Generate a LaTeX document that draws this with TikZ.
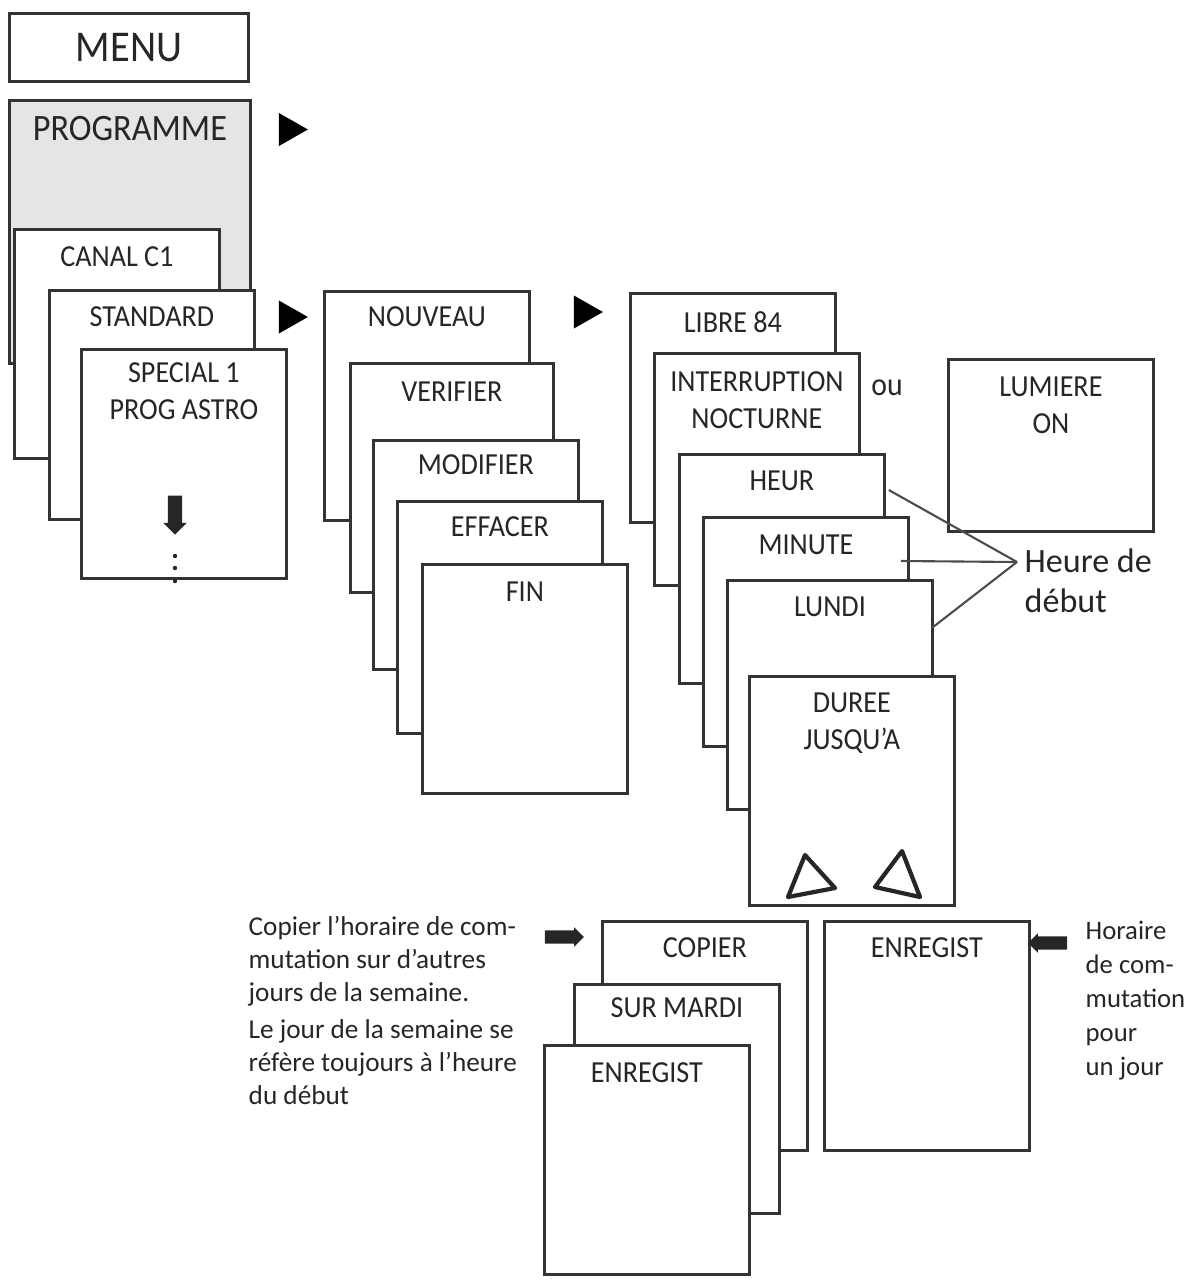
\documentclass[tikz,border=0pt]{standalone}
\usepackage{fontspec}
\setmainfont{Carlito}
\newfontfamily\dinfont{Carlito}[FakeStretch=0.92]
\usetikzlibrary{positioning,shapes.geometric,shapes.arrows}
\begin{document}
\begin{tikzpicture}[text=black!85,
    card/.style={rectangle, draw=black!80, line width=0.8pt, fill=white, anchor=north west,
      minimum width=2.05cm, minimum height=2.29cm, inner sep=0},
    grey/.style={card, fill=black!10, minimum width=2.41cm, minimum height=2.63cm},
    txt/.style={font=\dinfont\fontsize{8.7}{10.5}\selectfont, align=center, inner sep=0, outer sep=0},
    note/.style={font=\fontsize{7.75}{9.4}\selectfont, align=left, anchor=north west, inner sep=0},
    play/.style={isosceles triangle, isosceles triangle stretches, fill=black, draw=none,
      minimum height=0.29cm, minimum width=0.33cm, inner sep=0},
    fat/.style={single arrow, fill=black!85, draw=none, minimum height=0.39cm, minimum width=0.18cm,
      single arrow head extend=0.03cm, inner sep=0.06cm},
    link/.style={draw=black!70, line width=0.6pt},
    updown/.style={draw=black!85, line width=1.2pt, line join=round}]
  \useasboundingbox (0,0) rectangle (11.89,-12.84);
  % first column
  \node[card, minimum width=2.39cm, minimum height=0.68cm, font=\dinfont\fontsize{12.5}{14}\selectfont] (menu) at (0.08,-0.12) {MENU};
  \node[grey] (prog) at (0.08,-0.99) {};
  \node[txt, font=\dinfont\fontsize{10.6}{12}\selectfont, below=0.175cm of prog.north] (prog-t) {PROGRAMME};
  \node[card] (canal) at (0.13,-2.28) {};     \node[txt, below=0.19cm of canal.north] (canal-t) {CANAL C1};
  \node[card] (standard) at (0.48,-2.89) {};  \node[txt, below=0.18cm of standard.north] (standard-t) {STANDARD};
  \node[card] (special) at (0.80,-3.48) {};   \node[txt, below=0.15cm of special.north] (special-t) {SPECIAL 1\\PROG ASTRO};
  \node[fat, shape border rotate=270, minimum width=0.22cm, single arrow head extend=0.045cm, inner sep=0.065cm] (down) at (1.75,-5.115) {};
  \foreach \y in {5.56,5.68,5.81} \fill[black!85] (1.75,-\y) circle (0.022);
  \node[play] (go1) at (2.885,-1.295) {};
  \node[play] (go2) at (2.885,-3.17) {};
  % second column
  \node[card] (nouveau) at (3.23,-2.90) {};   \node[txt, below=0.17cm of nouveau.north] (nouveau-t) {NOUVEAU};
  \node[card, minimum width=2.03cm] (verifier) at (3.49,-3.62) {}; \node[txt, below=0.20cm of verifier.north] (verifier-t) {VERIFIER};
  \node[card] (modifier) at (3.72,-4.39) {};  \node[txt, below=0.16cm of modifier.north] (modifier-t) {MODIFIER};
  \node[card, minimum height=2.32cm] (effacer) at (3.96,-5.00) {}; \node[txt, below=0.17cm of effacer.north] (effacer-t) {EFFACER};
  \node[card] (fin) at (4.21,-5.63) {};       \node[txt, below=0.19cm of fin.north] (fin-t) {FIN};
  \node[play] (go3) at (5.835,-3.12) {};
  % third column
  \node[card] (libre) at (6.29,-2.92) {};     \node[txt, below=0.20cm of libre.north] (libre-t) {LIBRE 84};
  \node[card, minimum height=2.32cm] (nuit) at (6.53,-3.52) {}; \node[txt, below=0.20cm of nuit.north] (nuit-t) {INTERRUPTION\\NOCTURNE};
  \node[card] (heur) at (6.78,-4.53) {};      \node[txt, below=0.18cm of heur.north] (heur-t) {HEUR};
  \node[card] (minute) at (7.02,-5.16) {};    \node[txt, below=0.19cm of minute.north] (minute-t) {MINUTE};
  \node[card] (lundi) at (7.26,-5.79) {};     \node[txt, below=0.18cm of lundi.north] (lundi-t) {LUNDI};
  \node[card] (duree) at (7.48,-6.75) {};     \node[txt, below=0.18cm of duree.north] (duree-t) {DUREE\\JUSQU’A};
  \draw[updown] (8.05,-8.55) -- (8.35,-8.88) -- (7.88,-8.97) -- cycle;
  \draw[updown] (9.02,-8.51) -- (9.20,-8.97) -- (8.75,-8.87) -- cycle;
  \node[font=\dinfont\fontsize{9.2}{11}\selectfont, inner sep=0] (ou) at (8.87,-3.88) {ou};
  \node[card, minimum height=1.72cm] (lumiere) at (9.47,-3.58) {}; \node[txt, below=0.19cm of lumiere.north] (lumiere-t) {LUMIERE\\ON};
  % start time
  \coordinate (meet) at (10.17,-5.62);
  \node[font=\fontsize{9.7}{11.4}\selectfont, align=left, anchor=west, inner sep=0] (debut) at (10.24,-5.81) {Heure de\\début};
  \draw[link] ([xshift=0.03cm, yshift=-0.37cm]heur.north east) -- (meet);
  \draw[link] ([xshift=-0.09cm, yshift=-0.45cm]minute.north east) -- (meet);
  \draw[link] ([xshift=-0.02cm, yshift=-0.49cm]lundi.north east) -- (meet);
  % copy and save
  \node[card] (copier) at (6.01,-9.20) {};    \node[txt, below=0.18cm of copier.north] (copier-t) {COPIER};
  \node[card] (mardi) at (5.73,-9.83) {};     \node[txt, below=0.15cm of mardi.north] (mardi-t) {SUR MARDI};
  \node[card] (save) at (5.43,-10.44) {};     \node[txt, below=0.19cm of save.north] (save-t) {ENREGIST};
  \node[card] (save1) at (8.23,-9.20) {};     \node[txt, below=0.18cm of save1.north] (save1-t) {ENREGIST};
  \node[fat] (in1) at (5.61,-9.37) {};
  \node[fat, shape border rotate=180] (in2) at (10.51,-9.43) {};
  \node[note] (copynote) at (2.48,-9.16) {Copier l’horaire de com-\\mutation sur d’autres\\jours de la semaine.\\[1pt]Le jour de la semaine se\\réfère toujours à l’heure\\du début};
  \node[note, font=\fontsize{7.6}{9.7}\selectfont] (daynote) at (10.85,-9.20) {Horaire\\de com-\\mutation\\pour\\un jour};
\end{tikzpicture}
\end{document}
